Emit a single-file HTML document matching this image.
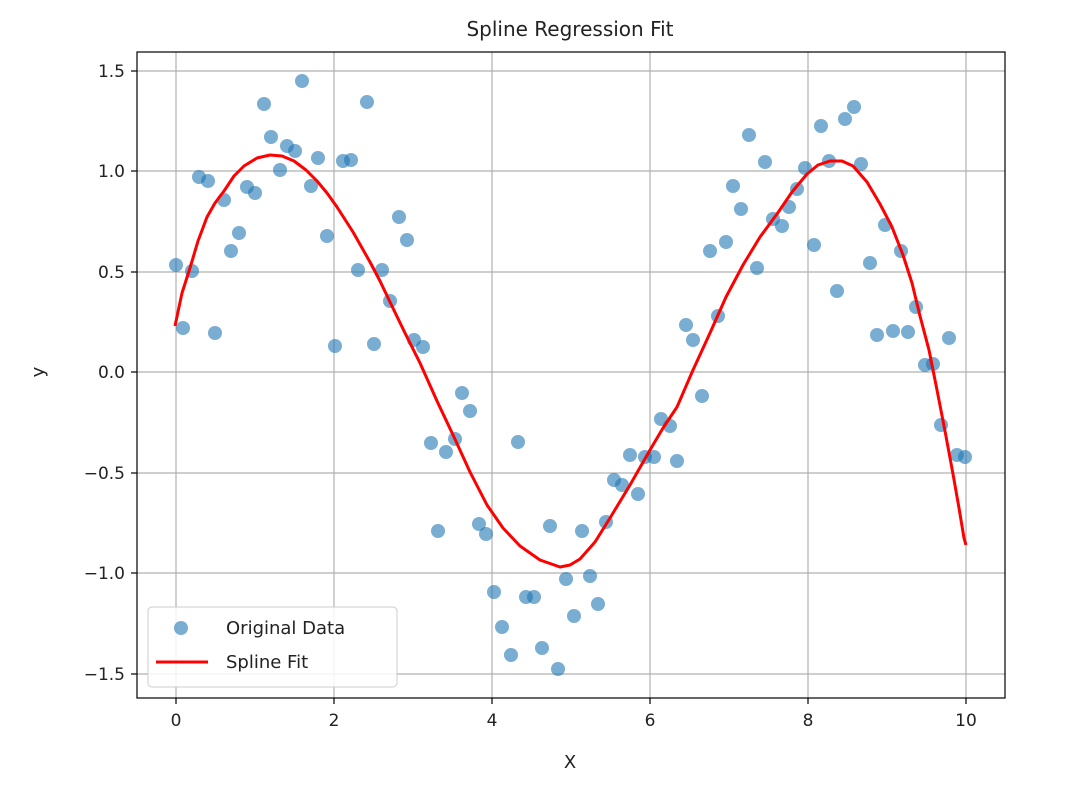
<!DOCTYPE html>
<html><head><meta charset="utf-8"><style>
html,body{margin:0;padding:0;background:#fff;}
svg text{font-family:"DejaVu Sans","Liberation Sans",sans-serif;fill:#222;}
</style></head><body>
<svg width="1072" height="795" viewBox="0 0 1072 795" xmlns="http://www.w3.org/2000/svg">
<rect width="1072" height="795" fill="#fff"/>
<g stroke="#b0b0b0" stroke-width="1.2">
<line x1="176" y1="52" x2="176" y2="698"/><line x1="334" y1="52" x2="334" y2="698"/>
<line x1="492" y1="52" x2="492" y2="698"/><line x1="650" y1="52" x2="650" y2="698"/>
<line x1="808" y1="52" x2="808" y2="698"/><line x1="966" y1="52" x2="966" y2="698"/>
<line x1="137" y1="71" x2="1005" y2="71"/><line x1="137" y1="171" x2="1005" y2="171"/>
<line x1="137" y1="272" x2="1005" y2="272"/><line x1="137" y1="372" x2="1005" y2="372"/>
<line x1="137" y1="473" x2="1005" y2="473"/><line x1="137" y1="573" x2="1005" y2="573"/>
<line x1="137" y1="674" x2="1005" y2="674"/>
</g>
<g fill="#1f77b4" fill-opacity="0.6">
<circle cx="176" cy="265" r="7"/><circle cx="183" cy="328" r="7"/><circle cx="192" cy="271" r="7"/><circle cx="199" cy="177" r="7"/><circle cx="208" cy="181" r="7"/><circle cx="215" cy="333" r="7"/><circle cx="224" cy="200" r="7"/><circle cx="231" cy="251" r="7"/><circle cx="239" cy="233" r="7"/><circle cx="247" cy="187" r="7"/><circle cx="255" cy="193" r="7"/><circle cx="264" cy="104" r="7"/><circle cx="271" cy="137" r="7"/><circle cx="280" cy="170" r="7"/><circle cx="287" cy="146" r="7"/><circle cx="295" cy="151" r="7"/><circle cx="302" cy="81" r="7"/><circle cx="311" cy="186" r="7"/><circle cx="318" cy="158" r="7"/><circle cx="327" cy="236" r="7"/><circle cx="335" cy="346" r="7"/><circle cx="343" cy="161" r="7"/><circle cx="351" cy="160" r="7"/><circle cx="358" cy="270" r="7"/><circle cx="367" cy="102" r="7"/><circle cx="374" cy="344" r="7"/><circle cx="382" cy="270" r="7"/><circle cx="390" cy="301" r="7"/><circle cx="399" cy="217" r="7"/><circle cx="407" cy="240" r="7"/><circle cx="414" cy="340" r="7"/><circle cx="423" cy="347" r="7"/><circle cx="431" cy="443" r="7"/><circle cx="438" cy="531" r="7"/><circle cx="446" cy="452" r="7"/><circle cx="455" cy="439" r="7"/><circle cx="462" cy="393" r="7"/><circle cx="470" cy="411" r="7"/><circle cx="479" cy="524" r="7"/><circle cx="486" cy="534" r="7"/><circle cx="494" cy="592" r="7"/><circle cx="502" cy="627" r="7"/><circle cx="511" cy="655" r="7"/><circle cx="518" cy="442" r="7"/><circle cx="526" cy="597" r="7"/><circle cx="534" cy="597" r="7"/><circle cx="542" cy="648" r="7"/><circle cx="550" cy="526" r="7"/><circle cx="558" cy="669" r="7"/><circle cx="566" cy="579" r="7"/><circle cx="574" cy="616" r="7"/><circle cx="582" cy="531" r="7"/><circle cx="590" cy="576" r="7"/><circle cx="598" cy="604" r="7"/><circle cx="606" cy="522" r="7"/><circle cx="614" cy="480" r="7"/><circle cx="622" cy="485" r="7"/><circle cx="630" cy="455" r="7"/><circle cx="638" cy="494" r="7"/><circle cx="645" cy="457" r="7"/><circle cx="654" cy="457" r="7"/><circle cx="661" cy="419" r="7"/><circle cx="670" cy="426" r="7"/><circle cx="677" cy="461" r="7"/><circle cx="686" cy="325" r="7"/><circle cx="693" cy="340" r="7"/><circle cx="702" cy="396" r="7"/><circle cx="710" cy="251" r="7"/><circle cx="718" cy="316" r="7"/><circle cx="726" cy="242" r="7"/><circle cx="733" cy="186" r="7"/><circle cx="741" cy="209" r="7"/><circle cx="749" cy="135" r="7"/><circle cx="757" cy="268" r="7"/><circle cx="765" cy="162" r="7"/><circle cx="773" cy="219" r="7"/><circle cx="782" cy="226" r="7"/><circle cx="789" cy="207" r="7"/><circle cx="797" cy="189" r="7"/><circle cx="805" cy="168" r="7"/><circle cx="814" cy="245" r="7"/><circle cx="821" cy="126" r="7"/><circle cx="829" cy="161" r="7"/><circle cx="837" cy="291" r="7"/><circle cx="845" cy="119" r="7"/><circle cx="854" cy="107" r="7"/><circle cx="861" cy="164" r="7"/><circle cx="870" cy="263" r="7"/><circle cx="877" cy="335" r="7"/><circle cx="885" cy="225" r="7"/><circle cx="893" cy="331" r="7"/><circle cx="901" cy="251" r="7"/><circle cx="908" cy="332" r="7"/><circle cx="916" cy="307" r="7"/><circle cx="925" cy="365" r="7"/><circle cx="933" cy="364" r="7"/><circle cx="941" cy="425" r="7"/><circle cx="949" cy="338" r="7"/><circle cx="957" cy="455" r="7"/><circle cx="965" cy="457" r="7"/>
</g>
<polyline fill="none" stroke="#ff0000" stroke-width="3" stroke-linejoin="round" points="175,326 182,293 190,268 198,241 207,217 215,203 224,191 234,176 244,166 257,158 270,155 282,156 294,161 306,170 317,181 327,193 337,207 353,232 370,262 380,281 390,302 405,333 420,363 437,401 454,437 470,472 487,505 503,528 520,546 540,560 560,567 570,565 580,559 595,542 610,518 630,485 650,450 663,428 677,407 693,370 710,333 726,297 743,265 760,237 777,214 792,192 807,174 818,165 830,161 842,161 853,166 867,182 880,204 892,227 903,255 912,283 920,316 929,350 937,390 945,431 953,474 959,508 964,538 966,545"/>
<rect x="137" y="52" width="868" height="646" fill="none" stroke="#000" stroke-width="1.2"/>
<g stroke="#000" stroke-width="1.2">
<line x1="176" y1="698" x2="176" y2="704"/><line x1="334" y1="698" x2="334" y2="704"/><line x1="492" y1="698" x2="492" y2="704"/><line x1="650" y1="698" x2="650" y2="704"/><line x1="808" y1="698" x2="808" y2="704"/><line x1="966" y1="698" x2="966" y2="704"/>
<line x1="131" y1="71" x2="137" y2="71"/><line x1="131" y1="171" x2="137" y2="171"/><line x1="131" y1="272" x2="137" y2="272"/><line x1="131" y1="372" x2="137" y2="372"/><line x1="131" y1="473" x2="137" y2="473"/><line x1="131" y1="573" x2="137" y2="573"/><line x1="131" y1="674" x2="137" y2="674"/>
</g>
<g font-size="17" text-anchor="middle">
<text x="176" y="726">0</text><text x="334" y="726">2</text><text x="492" y="726">4</text><text x="650" y="726">6</text><text x="808" y="726">8</text><text x="966" y="726">10</text>
</g>
<g font-size="17" text-anchor="end">
<text x="125" y="77">1.5</text><text x="125" y="177">1.0</text><text x="125" y="278">0.5</text><text x="125" y="378">0.0</text><text x="125" y="479">−0.5</text><text x="125" y="579">−1.0</text><text x="125" y="680">−1.5</text>
</g>
<text x="570" y="36" font-size="20" text-anchor="middle">Spline Regression Fit</text>
<text x="570" y="768" font-size="18" text-anchor="middle">X</text>
<text transform="translate(44,372) rotate(-90)" font-size="18" text-anchor="middle">y</text>
<rect x="148" y="607" width="249" height="80" rx="4" fill="#fff" fill-opacity="0.85" stroke="#ccc"/>
<circle cx="181" cy="628" r="7" fill="#1f77b4" fill-opacity="0.6"/>
<line x1="156" y1="662" x2="208" y2="662" stroke="#ff0000" stroke-width="3"/>
<text x="226" y="634" font-size="18">Original Data</text>
<text x="226" y="668" font-size="18">Spline Fit</text>
</svg>
</body></html>
